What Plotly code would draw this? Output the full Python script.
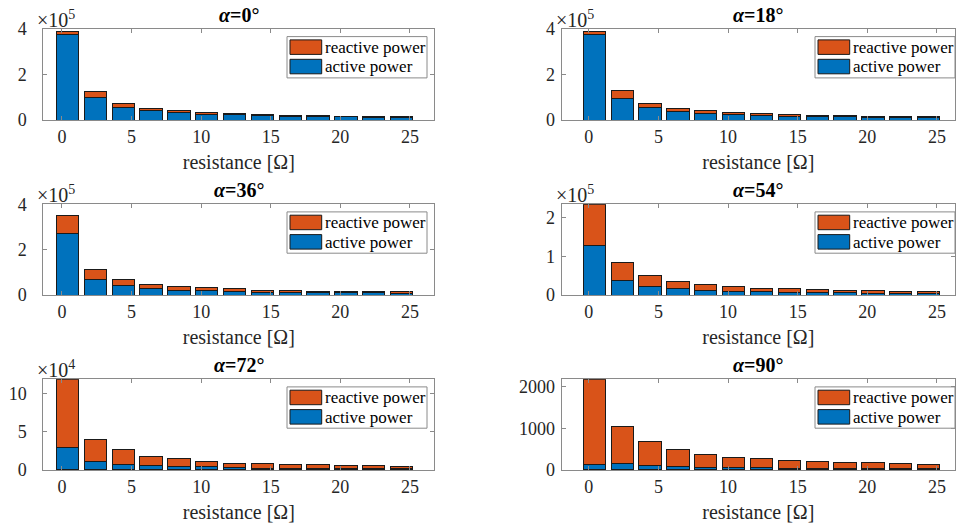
import plotly.graph_objects as go
from plotly.subplots import make_subplots

# ---------------- data ----------------
resistance = [0.4, 2.4, 4.4, 6.4, 8.4, 10.4, 12.4, 14.4, 16.4, 18.4, 20.4, 22.4, 24.4]

angles = [0, 18, 36, 54, 72, 90]

active_0 = [377000, 101000, 57000, 42000, 31000, 25000, 22000, 19500, 17500, 16000, 14500, 13000, 12000]
reactive_0 = [14000, 24000, 15000, 9000, 9000, 7000, 4500, 4000, 3000, 2000, 1500, 2000, 1500]

active_18 = [374000, 94000, 56000, 38000, 29000, 22000, 19000, 16000, 15000, 14000, 13000, 12000, 11000]
reactive_18 = [16000, 34000, 17500, 13500, 11000, 10000, 7500, 7500, 5500, 4000, 3000, 2500, 3000]

active_36 = [272000, 69000, 43000, 28000, 22000, 18000, 15000, 13000, 12000, 10000, 9500, 9000, 8000]
reactive_36 = [78000, 44000, 25000, 20500, 16000, 13000, 11500, 9000, 8500, 7500, 6500, 6500, 6000]

active_54 = [127000, 38000, 23000, 16500, 12000, 9500, 8000, 7000, 6500, 5500, 5000, 4500, 4000]
reactive_54 = [107000, 46500, 28000, 18000, 14700, 12000, 10000, 10000, 7500, 6500, 7000, 5500, 6000]

active_72 = [29000, 11000, 7500, 6000, 4800, 4000, 3000, 2600, 2400, 2200, 2000, 1800, 1600]
reactive_72 = [90300, 29300, 18800, 12400, 9700, 7000, 6200, 5300, 5100, 4400, 3300, 3500, 2800]

active_90 = [120, 160, 112, 88, 68, 64, 48, 45, 45, 45, 40, 32, 32]
reactive_90 = [2055, 880, 560, 392, 292, 240, 216, 171, 147, 131, 128, 112, 96]

actives = [active_0, active_18, active_36, active_54, active_72, active_90]
reactives = [reactive_0, reactive_18, reactive_36, reactive_54, reactive_72, reactive_90]

y_max = [4e5, 4e5, 4e5, 2.34e5, 1.193e5, 2175]
y_ticks = [[0, 2e5, 4e5], [0, 2e5, 4e5], [0, 2e5, 4e5], [0, 1e5, 2e5], [0, 5e4, 1e5], [0, 1000, 2000]]
y_ticktext = [["0", "2", "4"], ["0", "2", "4"], ["0", "2", "4"], ["0", "1", "2"], ["0", "5", "10"], ["0", "1000", "2000"]]
y_exponent = ["5", "5", "5", "5", "4", None]

x_ticks = [0, 5, 10, 15, 20, 25]
series_names = ["reactive power", "active power"]

# ---------------- style ----------------
W, H = 956, 529
FONT = "Liberation Serif"
BLUE = "#0072BD"
ORANGE = "#D95319"
AXC = "#8a8a8a"
TXT = "#262626"
EDGE = "#1a1a1a"

col_px = [(43.3, 434.3), (561.7, 955.0)]
row_px = [(29.0, 120.0), (204.3, 295.0), (379.3, 470.0)]
x_ranges = [(-1.34, 26.75), (-1.95, 26.3)]
legend_left_px = [287.0, 815.0]
ylab_standoff = [12, 2]


def px(xp):
    return xp / W


def py(yp):
    return 1 - yp / H


fig = make_subplots(rows=3, cols=2)
shapes = []

for i in range(6):
    r, c = i // 2, i % 2
    n = i + 1
    xa = "xaxis" if n == 1 else f"xaxis{n}"
    ya = "yaxis" if n == 1 else f"yaxis{n}"
    fig.add_trace(go.Bar(x=resistance, y=actives[i], name=series_names[1],
                         marker=dict(color=BLUE, line=dict(color=EDGE, width=1)),
                         width=1.6, showlegend=False),
                  row=r + 1, col=c + 1)
    fig.add_trace(go.Bar(x=resistance, y=reactives[i], name=series_names[0],
                         marker=dict(color=ORANGE, line=dict(color=EDGE, width=1)),
                         width=1.6, showlegend=False),
                  row=r + 1, col=c + 1)

    x0, x1 = col_px[c]
    y0, y1 = row_px[r]
    fig.layout[xa].update(
        domain=[px(x0), px(x1)], range=list(x_ranges[c]), automargin=False,
        tickvals=x_ticks, ticks="inside", ticklen=4, tickcolor=AXC,
        showline=True, linecolor=AXC, linewidth=1, mirror="allticks",
        showgrid=False, zeroline=False,
        tickfont=dict(family=FONT, size=18, color=TXT),
        title=dict(text="resistance [Ω]", font=dict(family=FONT, size=20, color=TXT), standoff=9),
    )
    fig.layout[ya].update(
        domain=[py(y1), py(y0)], range=[0, y_max[i]], automargin=False,
        tickvals=y_ticks[i], ticktext=y_ticktext[i],
        ticks="inside", ticklen=4, tickcolor=AXC,
        showline=True, linecolor=AXC, linewidth=1, mirror="allticks",
        showgrid=False, zeroline=False, ticklabelstandoff=ylab_standoff[c],
        tickfont=dict(family=FONT, size=18, color=TXT),
    )

    # legend box (drawn like the MATLAB legend)
    L = legend_left_px[c]
    T = y0 + 7.6
    shapes.append(dict(type="rect", xref="paper", yref="paper",
                       x0=px(L), x1=px(L + 140), y0=py(T + 41.3), y1=py(T),
                       line=dict(color=AXC, width=1), fillcolor="white", layer="above"))
    for k, (col, nm) in enumerate(zip([ORANGE, BLUE], series_names)):
        pt = T + 3.3 + k * 19.4
        shapes.append(dict(type="rect", xref="paper", yref="paper",
                           x0=px(L + 3), x1=px(L + 34.7), y0=py(pt + 14.5), y1=py(pt),
                           line=dict(color=EDGE, width=1), fillcolor=col, layer="above"))
        fig.add_annotation(x=px(L + 35.5), y=py(pt + 7.5), xref="paper", yref="paper",
                           text=nm, showarrow=False, xanchor="left", yanchor="middle",
                           font=dict(family=FONT, size=17, color="black"))

    # title
    fig.add_annotation(
        x=px((x0 + x1) / 2), y=py(y0 - 14), xref="paper", yref="paper",
        text=f"<b><i>α</i>={angles[i]}°</b>", showarrow=False,
        font=dict(family=FONT, size=20, color="black"), xanchor="center", yanchor="middle",
    )
    # exponent
    if y_exponent[i]:
        fig.add_annotation(
            x=px(x0 - 8), y=py(y0 - 10), xref="paper", yref="paper",
            text=f"×10<sup>{y_exponent[i]}</sup>", showarrow=False,
            font=dict(family=FONT, size=20, color=TXT), xanchor="left", yanchor="middle",
        )

fig.update_layout(
    width=W, height=H, margin=dict(l=0, r=0, t=0, b=0, autoexpand=False),
    barmode="stack", plot_bgcolor="white", paper_bgcolor="white",
    font=dict(family=FONT, color=TXT), shapes=shapes, showlegend=False,
)

fig.write_html("out.html")
